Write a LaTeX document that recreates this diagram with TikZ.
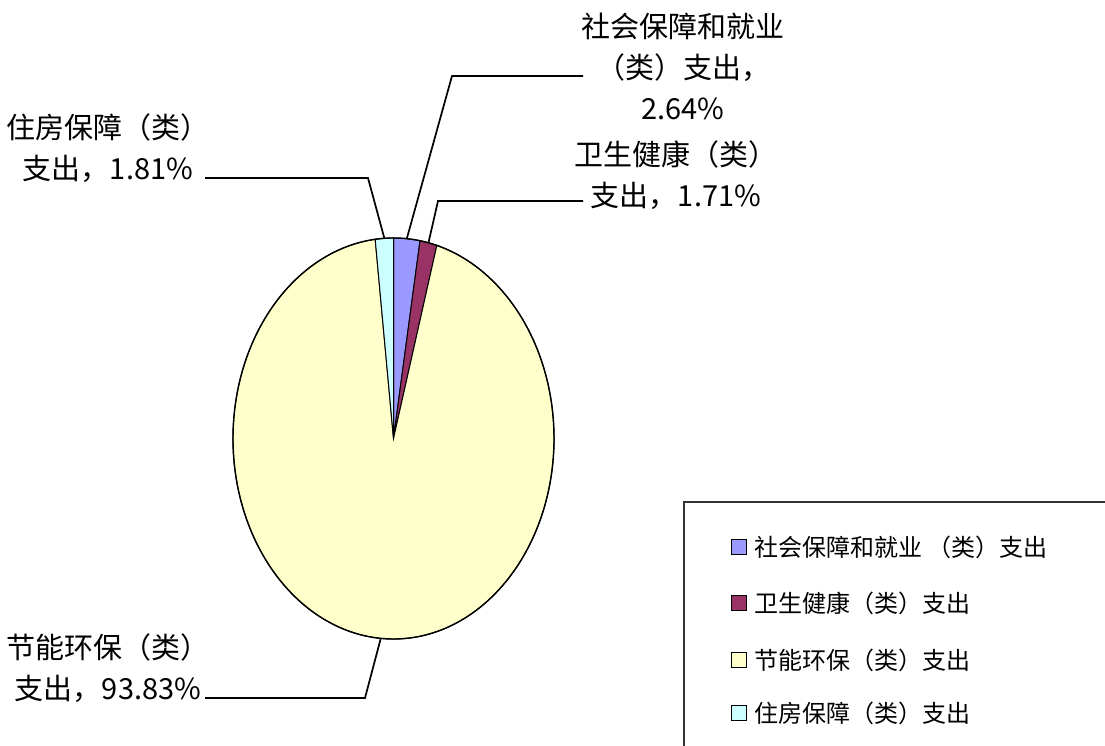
\documentclass[tikz,border=0pt]{standalone}
\usepackage{fontspec}
\newfontfamily\cjk{Noto Sans CJK SC}
\usetikzlibrary{positioning}
\definecolor{shebaoc}{HTML}{9999FF}
\definecolor{weishengc}{HTML}{993366}
\definecolor{jienengc}{HTML}{FFFFCC}
\definecolor{zhufangc}{HTML}{CCFFFF}

\begin{document}
\begin{tikzpicture}[x=1pt,y=1pt,
  slice/.style={draw=black,line width=1pt},
  leader/.style={line width=1.7pt},
  lbl/.style={font=\cjk\fontsize{29}{41}\selectfont,align=center,inner sep=0pt,anchor=north},
  legkey/.style={draw=black,line width=1.2pt,minimum size=15pt,inner sep=0pt},
  legtext/.style={font=\cjk\fontsize{24}{28}\selectfont,inner sep=0pt}]
	  \useasboundingbox (0,0) rectangle (1105,746);
	  \fill [white] (0,0) rectangle (1105,746);
	  \coordinate (pie) at (393.5,307.5);
	  % Slices
	  \filldraw [slice,fill=shebaoc] (pie) -- ++(90:160.5pt and 200.5pt) arc [start angle=90, end angle=80.496, x radius=160.5pt, y radius=200.5pt] -- cycle;
	  \filldraw [slice,fill=weishengc] (pie) -- ++(80.496:160.5pt and 200.5pt) arc [start angle=80.496, end angle=74.34, x radius=160.5pt, y radius=200.5pt] -- cycle;
	  \filldraw [slice,fill=jienengc] (pie) -- ++(74.34:160.5pt and 200.5pt) arc [start angle=74.34, end angle=-263.448, x radius=160.5pt, y radius=200.5pt] -- cycle;
	  \filldraw [slice,fill=zhufangc] (pie) -- ++(-263.448:160.5pt and 200.5pt) arc [start angle=-263.448, end angle=-270, x radius=160.5pt, y radius=200.5pt] -- cycle;
	  \draw [line width=1.4pt] (pie) ellipse [x radius=160.5pt, y radius=200.5pt];
	  % Slice labels
	  \node [lbl] (shebao) at (683,733) {社会保障和就业\\（类）支出，\\2.64\%};
	  \node [lbl] (weisheng) at (676,606) {卫生健康（类）\\支出，1.71\%};
	  \node [lbl] (zhufang) at (108,633) {住房保障（类）\\支出，1.81\%};
	  \node [lbl] (jieneng) at (108,113) {节能环保（类）\\支出，93.83\%};
	  % Leader lines
	  \path (pie) ++(85.25:160.5pt and 200.5pt) coordinate (sb-pie);
	  \path (pie) ++(77.42:160.5pt and 200.5pt) coordinate (ws-pie);
	  \path (pie) ++(93.26:160.5pt and 200.5pt) coordinate (zf-pie);
	  \path (pie) ++(-94.55:160.5pt and 200.5pt) coordinate (jn-pie);
	  \coordinate (sb-end) at (583,670);
	  \coordinate (sb-bend) at (452,670);
	  \coordinate (ws-end) at (583,545);
	  \coordinate (ws-bend) at (438,545);
	  \coordinate (zf-end) at (205,568);
	  \coordinate (zf-bend) at (368,568);
	  \coordinate (jn-end) at (205,48);
	  \coordinate (jn-bend) at (365,48);
	  \draw [leader] (sb-end) -- (sb-bend) -- (sb-pie);
	  \draw [leader] (ws-end) -- (ws-bend) -- (ws-pie);
	  \draw [leader] (zf-end) -- (zf-bend) -- (zf-pie);
	  \draw [leader] (jn-end) -- (jn-bend) -- (jn-pie);
	  % Legend
	  \draw [line width=1.3pt,black!80] (684,-5) -- (684,244) -- (1110,244);
	  \node [legkey,fill=shebaoc] (key1) at (739,199) {};
	  \node [legkey,fill=weishengc] (key2) at (739,143) {};
	  \node [legkey,fill=jienengc] (key3) at (739,86) {};
	  \node [legkey,fill=zhufangc] (key4) at (739,33) {};
	  \node [legtext,right=7pt of key1] (leg1) {社会保障和就业 （类）支出};
	  \node [legtext,right=7pt of key2] (leg2) {卫生健康（类）支出};
	  \node [legtext,right=7pt of key3] (leg3) {节能环保（类）支出};
	  \node [legtext,right=7pt of key4] (leg4) {住房保障（类）支出};
	 \end{tikzpicture}
\end{document}
